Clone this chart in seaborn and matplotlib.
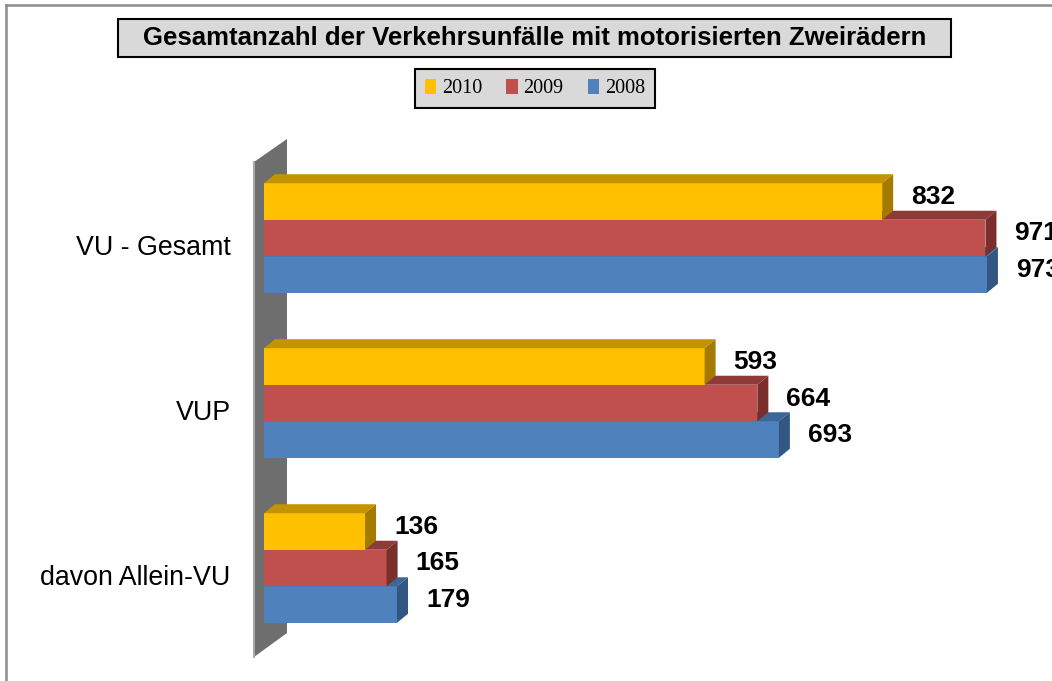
import pandas as pd
import matplotlib.pyplot as plt
import seaborn as sns
from matplotlib.patches import Polygon, Rectangle, Patch
from matplotlib.lines import Line2D
from matplotlib.transforms import ScaledTranslation


# data
categories = ['VU - Gesamt', 'VUP', 'davon Allein-VU']
years = ['2010', '2009', '2008']
values_2010 = [832, 593, 136]
values_2009 = [971, 664, 165]
values_2008 = [973, 693, 179]

front_colors = ['#FFC000', '#C0504D', '#4F81BD']
top_colors = ['#C49300', '#8E3A38', '#3C6697']
side_colors = ['#A47A00', '#7A2F2D', '#335783']

rows = []
for year, vals in zip(years, [values_2010, values_2009, values_2008]):
    for cat, v in zip(categories, vals):
        rows.append({'Kategorie': cat, 'Jahr': year, 'Anzahl': v})
df = pd.DataFrame(rows)

W, H = 1052, 681
fig = plt.figure(figsize=(W / 100, H / 100), dpi=100)
plt.rcParams['font.family'] = ['Liberation Sans', 'DejaVu Sans']


def px(x, y):
    # figure pixel -> figure fraction (y from top)
    return (x / W, 1 - y / H)


# axes: x=0 sits at pixel 264, 0.743 px per unit; groups 165 px apart
ax = fig.add_axes([264 / W, 0, (W - 264) / W, (H - 130) / H])
sns.barplot(
    data=df, y='Kategorie', x='Anzahl', hue='Jahr', hue_order=years,
    palette=front_colors, orient='h', width=0.664, saturation=1,
    linewidth=0, legend=False, ax=ax
)
ax.set_xlim(0, (W - 264) / 0.743)
ax.set_ylim(443 / 165, -108 / 165)

# fake 3d depth of the bars
dx = 11 / 0.743
dy = 9 / 165
for i, cont in enumerate(ax.containers):
    z = 6 - i
    for bar in cont:
        x0 = bar.get_x()
        x1 = x0 + bar.get_width()
        yt = bar.get_y()
        yb = yt + bar.get_height()
        bar.set_zorder(z)
        ax.add_patch(Polygon([(x0, yt), (x1, yt), (x1 + dx, yt - dy), (x0 + dx, yt - dy)],
                             closed=True, facecolor=top_colors[i], edgecolor='none', zorder=z))
        ax.add_patch(Polygon([(x1, yt), (x1 + dx, yt - dy), (x1 + dx, yb - dy), (x1, yb)],
                             closed=True, facecolor=side_colors[i], edgecolor='none', zorder=z))
        ax.annotate(f'{bar.get_width():.0f}', xy=(x1 + dx, (yt + yb) / 2 - dy / 2),
                    xytext=(13, 0), textcoords='offset points', ha='left', va='center',
                    fontsize=19, fontweight='bold', color='black', annotation_clip=False,
                    zorder=10)

# gray back wall
wall = Polygon([px(254, 162), px(287, 139), px(287, 633), px(254, 657)], closed=True,
               transform=fig.transFigure, facecolor='#6e6e6e', edgecolor='none',
               clip_on=False, zorder=1)
ax.add_patch(wall)
ax.add_line(Line2D([254 / W, 254 / W], [1 - 162 / H, 1 - 657 / H], transform=fig.transFigure,
                   color='#a8a8a8', lw=1.5, clip_on=False, zorder=1))

for s in ax.spines.values():
    s.set_visible(False)
ax.set_xticks([])
ax.set_xlabel('')
ax.set_ylabel('')
ax.tick_params(axis='y', length=0, pad=24, labelsize=19.3)
for lab in ax.get_yticklabels():
    lab.set_transform(lab.get_transform() + ScaledTranslation(0, -0.07, fig.dpi_scale_trans))
ax.patch.set_alpha(0)

# title box
x0, y0 = px(118, 57)
x1, y1 = px(951, 19)
fig.patches.append(Rectangle((x0, y0), x1 - x0, y1 - y0, transform=fig.transFigure,
                             facecolor='#d9d9d9', edgecolor='black', lw=1.5))
fig.text((x0 + x1) / 2, (y0 + y1) / 2, 'Gesamtanzahl der Verkehrsunfälle mit motorisierten Zweirädern',
         ha='center', va='center', fontsize=18.5, fontweight='bold')

# legend
handles = [Patch(facecolor=c, edgecolor='none', label=y) for c, y in zip(front_colors, years)]
cx, cy = px(535, 88.5)
leg = fig.legend(handles=handles, loc='center', bbox_to_anchor=(cx, cy), ncol=3,
                 prop={'family': 'Liberation Serif', 'size': 14.5}, handlelength=0.55,
                 handleheight=0.8, handletextpad=0.3, columnspacing=1.2, borderpad=0.5,
                 fancybox=False, framealpha=1)
leg.get_frame().set_facecolor('#d9d9d9')
leg.get_frame().set_edgecolor('black')
leg.get_frame().set_linewidth(1.5)

# outer chart border (top and left only visible)
fig.add_artist(Line2D([6 / W, 1], [1 - 5 / H, 1 - 5 / H], color='#8c8c8c', lw=1.8))
fig.add_artist(Line2D([6 / W, 6 / W], [1 - 5 / H, 0], color='#8c8c8c', lw=1.8))

fig.savefig('out.png', dpi=100)
